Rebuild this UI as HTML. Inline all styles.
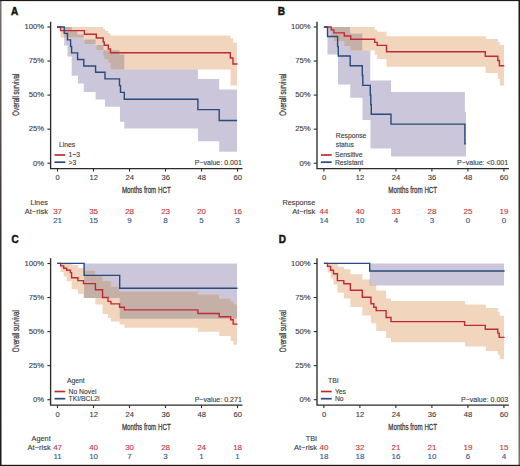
<!DOCTYPE html>
<html><head><meta charset="utf-8"><style>
html,body{margin:0;padding:0;background:#fff;}
svg{display:block;font-family:"Liberation Sans", sans-serif;}
text{stroke-width:0.12px;paint-order:stroke;}
</style></head><body>
<svg width="520" height="466" viewBox="0 0 520 466">
<rect x="0" y="0" width="520" height="466" fill="#fff"/>
<g transform="translate(0 0)">
<text x="11.00" y="14.60" font-size="10" text-anchor="start" fill="#111" stroke="#111" font-weight="bold" style="stroke-width:0.45px">A</text>
<clipPath id="clipA"><path d="M64.20 27.00 L71.70 27.00 L71.70 30.00 L77.40 30.00 L77.40 34.50 L83.80 34.50 L83.80 39.60 L95.60 39.60 L95.60 45.00 L103.40 45.00 L103.40 50.30 L119.50 50.30 L119.50 54.40 L124.30 54.40 L124.30 69.60 L197.90 69.60 L197.90 78.90 L219.20 78.90 L219.20 89.50 L237.00 89.50 L237.00 151.80 L219.20 151.80 L219.20 141.20 L197.90 141.20 L197.90 128.50 L124.30 128.50 L124.30 121.80 L120.00 121.80 L120.00 106.70 L105.00 106.70 L105.00 99.60 L95.60 99.60 L95.60 91.90 L83.80 91.90 L83.80 83.60 L78.00 83.60 L78.00 75.70 L71.70 75.70 L71.70 56.40 L67.50 56.40 L67.50 45.40 L64.20 45.40Z"/></clipPath>
<path d="M64.20 27.00 L71.70 27.00 L71.70 30.00 L77.40 30.00 L77.40 34.50 L83.80 34.50 L83.80 39.60 L95.60 39.60 L95.60 45.00 L103.40 45.00 L103.40 50.30 L119.50 50.30 L119.50 54.40 L124.30 54.40 L124.30 69.60 L197.90 69.60 L197.90 78.90 L219.20 78.90 L219.20 89.50 L237.00 89.50 L237.00 151.80 L219.20 151.80 L219.20 141.20 L197.90 141.20 L197.90 128.50 L124.30 128.50 L124.30 121.80 L120.00 121.80 L120.00 106.70 L105.00 106.70 L105.00 99.60 L95.60 99.60 L95.60 91.90 L83.80 91.90 L83.80 83.60 L78.00 83.60 L78.00 75.70 L71.70 75.70 L71.70 56.40 L67.50 56.40 L67.50 45.40 L64.20 45.40Z" fill="#cbc6d9"/>
<path d="M60.60 27.00 L103.20 27.00 L103.20 29.00 L105.00 29.00 L105.00 31.10 L108.20 31.10 L108.20 33.30 L110.60 33.30 L110.60 35.40 L230.50 35.40 L230.50 38.30 L233.20 38.30 L233.20 42.80 L237.00 42.80 L237.00 85.60 L230.50 85.60 L230.50 69.50 L110.50 69.50 L110.50 62.70 L108.20 62.70 L108.20 59.20 L104.20 59.20 L104.20 55.30 L103.20 55.30 L103.20 49.90 L96.30 49.90 L96.30 44.00 L84.40 44.00 L84.40 37.50 L60.60 37.50Z" fill="#f1d5bc"/>
<path d="M60.60 27.00 L103.20 27.00 L103.20 29.00 L105.00 29.00 L105.00 31.10 L108.20 31.10 L108.20 33.30 L110.60 33.30 L110.60 35.40 L230.50 35.40 L230.50 38.30 L233.20 38.30 L233.20 42.80 L237.00 42.80 L237.00 85.60 L230.50 85.60 L230.50 69.50 L110.50 69.50 L110.50 62.70 L108.20 62.70 L108.20 59.20 L104.20 59.20 L104.20 55.30 L103.20 55.30 L103.20 49.90 L96.30 49.90 L96.30 44.00 L84.40 44.00 L84.40 37.50 L60.60 37.50Z" fill="#c5b0a8" clip-path="url(#clipA)"/>
<path d="M57.10 27.00H60.60V30.60H84.40V34.20H96.30V38.00H103.20V41.90H104.20V45.30H108.30V49.00H110.50V52.70H230.30V58.00H233.00V64.00H237.50" fill="none" stroke="#c02a35" stroke-width="1.4" stroke-linejoin="miter"/>
<path d="M57.10 27.00H64.20V33.40H67.50V39.90H70.60V46.50H71.60V52.90H77.60V59.50H83.80V66.00H95.60V72.30H105.00V78.90H119.50V85.60H120.50V92.40H124.30V99.20H197.90V109.60H219.20V120.50H237.10" fill="none" stroke="#284a7c" stroke-width="1.4" stroke-linejoin="miter"/>
<path d="M50.6 21.7V168.6H242.5" fill="none" stroke="#2e2b28" stroke-width="1.35"/>
<path d="M47.4 163.20H50.6" stroke="#2e2b28" stroke-width="1.1"/>
<text x="44.20" y="165.50" font-size="7.7" text-anchor="end" fill="#3a3a3a" stroke="#3a3a3a" font-weight="normal" >0%</text>
<path d="M47.4 129.15H50.6" stroke="#2e2b28" stroke-width="1.1"/>
<text x="44.20" y="131.45" font-size="7.7" text-anchor="end" fill="#3a3a3a" stroke="#3a3a3a" font-weight="normal" >25%</text>
<path d="M47.4 95.10H50.6" stroke="#2e2b28" stroke-width="1.1"/>
<text x="44.20" y="97.40" font-size="7.7" text-anchor="end" fill="#3a3a3a" stroke="#3a3a3a" font-weight="normal" >50%</text>
<path d="M47.4 61.05H50.6" stroke="#2e2b28" stroke-width="1.1"/>
<text x="44.20" y="63.35" font-size="7.7" text-anchor="end" fill="#3a3a3a" stroke="#3a3a3a" font-weight="normal" >75%</text>
<path d="M47.4 27.00H50.6" stroke="#2e2b28" stroke-width="1.1"/>
<text x="44.20" y="29.30" font-size="7.7" text-anchor="end" fill="#3a3a3a" stroke="#3a3a3a" font-weight="normal" >100%</text>
<path d="M57.50 168.6V171.6" stroke="#2e2b28" stroke-width="1.1"/>
<text x="57.70" y="180.20" font-size="7.6" text-anchor="middle" fill="#3a3a3a" stroke="#3a3a3a" font-weight="normal" >0</text>
<path d="M93.50 168.6V171.6" stroke="#2e2b28" stroke-width="1.1"/>
<text x="93.70" y="180.20" font-size="7.6" text-anchor="middle" fill="#3a3a3a" stroke="#3a3a3a" font-weight="normal" >12</text>
<path d="M129.50 168.6V171.6" stroke="#2e2b28" stroke-width="1.1"/>
<text x="129.70" y="180.20" font-size="7.6" text-anchor="middle" fill="#3a3a3a" stroke="#3a3a3a" font-weight="normal" >24</text>
<path d="M165.50 168.6V171.6" stroke="#2e2b28" stroke-width="1.1"/>
<text x="165.70" y="180.20" font-size="7.6" text-anchor="middle" fill="#3a3a3a" stroke="#3a3a3a" font-weight="normal" >36</text>
<path d="M201.50 168.6V171.6" stroke="#2e2b28" stroke-width="1.1"/>
<text x="201.70" y="180.20" font-size="7.6" text-anchor="middle" fill="#3a3a3a" stroke="#3a3a3a" font-weight="normal" >48</text>
<path d="M237.50 168.6V171.6" stroke="#2e2b28" stroke-width="1.1"/>
<text x="237.70" y="180.20" font-size="7.6" text-anchor="middle" fill="#3a3a3a" stroke="#3a3a3a" font-weight="normal" >60</text>
<text transform="translate(146.30 193.10) scale(0.645 1)" font-size="9.6" text-anchor="middle" fill="#3a3a3a" font-weight="normal" stroke="#3a3a3a" style="stroke-width:0.3px">Months from HCT</text>
<text transform="translate(19.2 94.7) rotate(-90) scale(0.645 1)" font-size="9.5" text-anchor="middle" fill="#3a3a3a" stroke="#3a3a3a" text-rendering="geometricPrecision" style="stroke-width:0.25px">Overall survival</text>
<text transform="translate(241.80 165.10) scale(0.94 1)" font-size="7.5" text-anchor="end" fill="#3a3a3a" font-weight="normal" stroke="#3a3a3a">P−value: 0.001</text>
<text transform="translate(58.90 147.00) scale(0.96 1)" font-size="7.1" text-anchor="start" fill="#3a3a3a" font-weight="normal" stroke="#3a3a3a">Lines</text>
<path d="M54.5 155.0H65.3" stroke="#c02a35" stroke-width="1.7"/>
<path d="M54.5 162.2H65.3" stroke="#284a7c" stroke-width="1.7"/>
<text transform="translate(68.50 157.30) scale(0.96 1)" font-size="7.1" text-anchor="start" fill="#3a3a3a" font-weight="normal" stroke="#3a3a3a">1−3</text>
<text transform="translate(68.50 164.50) scale(0.96 1)" font-size="7.1" text-anchor="start" fill="#3a3a3a" font-weight="normal" stroke="#3a3a3a">&gt;3</text>
<text x="47.90" y="205.20" font-size="7.3" text-anchor="end" fill="#3a3a3a" stroke="#3a3a3a" font-weight="normal" >Lines</text>
<text x="47.90" y="213.90" font-size="7.5" text-anchor="end" fill="#3a3a3a" stroke="#3a3a3a" font-weight="normal" >At−risk</text>
<text x="57.60" y="214.00" font-size="8.0" text-anchor="middle" fill="#c93339" stroke="#c93339" font-weight="normal" >37</text>
<text x="57.60" y="222.90" font-size="8.0" text-anchor="middle" fill="#34548a" stroke="#34548a" font-weight="normal" >21</text>
<text x="93.60" y="214.00" font-size="8.0" text-anchor="middle" fill="#c93339" stroke="#c93339" font-weight="normal" >35</text>
<text x="93.60" y="222.90" font-size="8.0" text-anchor="middle" fill="#34548a" stroke="#34548a" font-weight="normal" >15</text>
<text x="129.60" y="214.00" font-size="8.0" text-anchor="middle" fill="#c93339" stroke="#c93339" font-weight="normal" >28</text>
<text x="129.60" y="222.90" font-size="8.0" text-anchor="middle" fill="#34548a" stroke="#34548a" font-weight="normal" >9</text>
<text x="165.60" y="214.00" font-size="8.0" text-anchor="middle" fill="#c93339" stroke="#c93339" font-weight="normal" >23</text>
<text x="165.60" y="222.90" font-size="8.0" text-anchor="middle" fill="#34548a" stroke="#34548a" font-weight="normal" >8</text>
<text x="201.60" y="214.00" font-size="8.0" text-anchor="middle" fill="#c93339" stroke="#c93339" font-weight="normal" >20</text>
<text x="201.60" y="222.90" font-size="8.0" text-anchor="middle" fill="#34548a" stroke="#34548a" font-weight="normal" >5</text>
<text x="237.60" y="214.00" font-size="8.0" text-anchor="middle" fill="#c93339" stroke="#c93339" font-weight="normal" >16</text>
<text x="237.60" y="222.90" font-size="8.0" text-anchor="middle" fill="#34548a" stroke="#34548a" font-weight="normal" >3</text>
</g>
<g transform="translate(266.4 0)">
<text x="11.40" y="15.00" font-size="10" text-anchor="start" fill="#111" stroke="#111" font-weight="bold" style="stroke-width:0.45px">B</text>
<clipPath id="clipB"><path d="M61.10 27.00 L83.70 27.00 L83.70 33.60 L95.90 33.60 L95.90 50.60 L103.90 50.60 L103.90 80.50 L124.60 80.50 L124.60 92.00 L198.50 92.00 L198.50 111.80 L199.60 111.80 L199.60 156.50 L124.60 156.50 L124.60 148.60 L104.10 148.60 L104.10 120.10 L96.10 120.10 L96.10 97.70 L83.90 97.70 L83.90 84.40 L71.60 84.40 L71.60 54.50 L61.10 54.50Z"/></clipPath>
<path d="M61.10 27.00 L83.70 27.00 L83.70 33.60 L95.90 33.60 L95.90 50.60 L103.90 50.60 L103.90 80.50 L124.60 80.50 L124.60 92.00 L198.50 92.00 L198.50 111.80 L199.60 111.80 L199.60 156.50 L124.60 156.50 L124.60 148.60 L104.10 148.60 L104.10 120.10 L96.10 120.10 L96.10 97.70 L83.90 97.70 L83.90 84.40 L71.60 84.40 L71.60 54.50 L61.10 54.50Z" fill="#cbc6d9"/>
<path d="M64.80 27.00 L108.30 27.00 L108.30 29.80 L110.70 29.80 L110.70 31.80 L120.10 31.80 L120.10 36.30 L219.30 36.30 L219.30 38.90 L231.40 38.90 L231.40 42.20 L233.80 42.20 L233.80 45.10 L237.60 45.10 L237.60 85.60 L233.40 85.60 L233.40 78.90 L231.40 78.90 L231.40 73.10 L219.30 73.10 L219.30 66.80 L120.10 66.80 L120.10 58.90 L110.70 58.90 L110.70 54.80 L108.30 54.80 L108.30 50.60 L83.90 50.60 L83.90 45.90 L77.90 45.90 L77.90 41.30 L67.50 41.30 L67.50 36.00 L64.80 36.00Z" fill="#f1d5bc"/>
<path d="M64.80 27.00 L108.30 27.00 L108.30 29.80 L110.70 29.80 L110.70 31.80 L120.10 31.80 L120.10 36.30 L219.30 36.30 L219.30 38.90 L231.40 38.90 L231.40 42.20 L233.80 42.20 L233.80 45.10 L237.60 45.10 L237.60 85.60 L233.40 85.60 L233.40 78.90 L231.40 78.90 L231.40 73.10 L219.30 73.10 L219.30 66.80 L120.10 66.80 L120.10 58.90 L110.70 58.90 L110.70 54.80 L108.30 54.80 L108.30 50.60 L83.90 50.60 L83.90 45.90 L77.90 45.90 L77.90 41.30 L67.50 41.30 L67.50 36.00 L64.80 36.00Z" fill="#c5b0a8" clip-path="url(#clipB)"/>
<path d="M57.50 27.00H64.80V29.90H67.50V32.90H77.90V36.00H84.30V39.30H108.30V42.40H110.80V45.40H120.10V51.80H218.90V56.30H231.40V60.50H233.00V65.75H237.80" fill="none" stroke="#c02a35" stroke-width="1.4" stroke-linejoin="miter"/>
<path d="M57.50 27.00H61.10V36.50H71.20V46.60H71.90V56.00H83.80V65.70H95.90V75.50H96.40V85.40H103.90V95.00H104.40V104.60H104.90V114.20H124.60V124.10H198.50V143.90H199.60" fill="none" stroke="#284a7c" stroke-width="1.4" stroke-linejoin="miter"/>
<path d="M50.6 21.7V168.6H242.5" fill="none" stroke="#2e2b28" stroke-width="1.35"/>
<path d="M47.4 163.20H50.6" stroke="#2e2b28" stroke-width="1.1"/>
<text x="44.20" y="165.50" font-size="7.7" text-anchor="end" fill="#3a3a3a" stroke="#3a3a3a" font-weight="normal" >0%</text>
<path d="M47.4 129.15H50.6" stroke="#2e2b28" stroke-width="1.1"/>
<text x="44.20" y="131.45" font-size="7.7" text-anchor="end" fill="#3a3a3a" stroke="#3a3a3a" font-weight="normal" >25%</text>
<path d="M47.4 95.10H50.6" stroke="#2e2b28" stroke-width="1.1"/>
<text x="44.20" y="97.40" font-size="7.7" text-anchor="end" fill="#3a3a3a" stroke="#3a3a3a" font-weight="normal" >50%</text>
<path d="M47.4 61.05H50.6" stroke="#2e2b28" stroke-width="1.1"/>
<text x="44.20" y="63.35" font-size="7.7" text-anchor="end" fill="#3a3a3a" stroke="#3a3a3a" font-weight="normal" >75%</text>
<path d="M47.4 27.00H50.6" stroke="#2e2b28" stroke-width="1.1"/>
<text x="44.20" y="29.30" font-size="7.7" text-anchor="end" fill="#3a3a3a" stroke="#3a3a3a" font-weight="normal" >100%</text>
<path d="M57.50 168.6V171.6" stroke="#2e2b28" stroke-width="1.1"/>
<text x="57.70" y="180.20" font-size="7.6" text-anchor="middle" fill="#3a3a3a" stroke="#3a3a3a" font-weight="normal" >0</text>
<path d="M93.50 168.6V171.6" stroke="#2e2b28" stroke-width="1.1"/>
<text x="93.70" y="180.20" font-size="7.6" text-anchor="middle" fill="#3a3a3a" stroke="#3a3a3a" font-weight="normal" >12</text>
<path d="M129.50 168.6V171.6" stroke="#2e2b28" stroke-width="1.1"/>
<text x="129.70" y="180.20" font-size="7.6" text-anchor="middle" fill="#3a3a3a" stroke="#3a3a3a" font-weight="normal" >24</text>
<path d="M165.50 168.6V171.6" stroke="#2e2b28" stroke-width="1.1"/>
<text x="165.70" y="180.20" font-size="7.6" text-anchor="middle" fill="#3a3a3a" stroke="#3a3a3a" font-weight="normal" >36</text>
<path d="M201.50 168.6V171.6" stroke="#2e2b28" stroke-width="1.1"/>
<text x="201.70" y="180.20" font-size="7.6" text-anchor="middle" fill="#3a3a3a" stroke="#3a3a3a" font-weight="normal" >48</text>
<path d="M237.50 168.6V171.6" stroke="#2e2b28" stroke-width="1.1"/>
<text x="237.70" y="180.20" font-size="7.6" text-anchor="middle" fill="#3a3a3a" stroke="#3a3a3a" font-weight="normal" >60</text>
<text transform="translate(146.30 193.10) scale(0.645 1)" font-size="9.6" text-anchor="middle" fill="#3a3a3a" font-weight="normal" stroke="#3a3a3a" style="stroke-width:0.3px">Months from HCT</text>
<text transform="translate(19.2 94.7) rotate(-90) scale(0.645 1)" font-size="9.5" text-anchor="middle" fill="#3a3a3a" stroke="#3a3a3a" text-rendering="geometricPrecision" style="stroke-width:0.25px">Overall survival</text>
<text transform="translate(241.80 165.10) scale(0.94 1)" font-size="7.5" text-anchor="end" fill="#3a3a3a" font-weight="normal" stroke="#3a3a3a">P−value: &lt;0.001</text>
<text transform="translate(69.40 138.00) scale(0.96 1)" font-size="7.1" text-anchor="start" fill="#3a3a3a" font-weight="normal" stroke="#3a3a3a">Response</text>
<text transform="translate(69.40 146.50) scale(0.96 1)" font-size="7.1" text-anchor="start" fill="#3a3a3a" font-weight="normal" stroke="#3a3a3a">status</text>
<path d="M54.5 155.0H65.3" stroke="#c02a35" stroke-width="1.7"/>
<path d="M54.5 162.2H65.3" stroke="#284a7c" stroke-width="1.7"/>
<text transform="translate(68.50 157.30) scale(0.96 1)" font-size="7.1" text-anchor="start" fill="#3a3a3a" font-weight="normal" stroke="#3a3a3a">Sensitive</text>
<text transform="translate(68.50 164.50) scale(0.96 1)" font-size="7.1" text-anchor="start" fill="#3a3a3a" font-weight="normal" stroke="#3a3a3a">Resistant</text>
<text x="48.90" y="205.20" font-size="7.3" text-anchor="end" fill="#3a3a3a" stroke="#3a3a3a" font-weight="normal" >Response</text>
<text x="48.90" y="213.90" font-size="7.5" text-anchor="end" fill="#3a3a3a" stroke="#3a3a3a" font-weight="normal" >At−risk</text>
<text x="57.60" y="214.00" font-size="8.0" text-anchor="middle" fill="#c93339" stroke="#c93339" font-weight="normal" >44</text>
<text x="57.60" y="222.90" font-size="8.0" text-anchor="middle" fill="#34548a" stroke="#34548a" font-weight="normal" >14</text>
<text x="93.60" y="214.00" font-size="8.0" text-anchor="middle" fill="#c93339" stroke="#c93339" font-weight="normal" >40</text>
<text x="93.60" y="222.90" font-size="8.0" text-anchor="middle" fill="#34548a" stroke="#34548a" font-weight="normal" >10</text>
<text x="129.60" y="214.00" font-size="8.0" text-anchor="middle" fill="#c93339" stroke="#c93339" font-weight="normal" >33</text>
<text x="129.60" y="222.90" font-size="8.0" text-anchor="middle" fill="#34548a" stroke="#34548a" font-weight="normal" >4</text>
<text x="165.60" y="214.00" font-size="8.0" text-anchor="middle" fill="#c93339" stroke="#c93339" font-weight="normal" >28</text>
<text x="165.60" y="222.90" font-size="8.0" text-anchor="middle" fill="#34548a" stroke="#34548a" font-weight="normal" >3</text>
<text x="201.60" y="214.00" font-size="8.0" text-anchor="middle" fill="#c93339" stroke="#c93339" font-weight="normal" >25</text>
<text x="201.60" y="222.90" font-size="8.0" text-anchor="middle" fill="#34548a" stroke="#34548a" font-weight="normal" >0</text>
<text x="237.60" y="214.00" font-size="8.0" text-anchor="middle" fill="#c93339" stroke="#c93339" font-weight="normal" >19</text>
<text x="237.60" y="222.90" font-size="8.0" text-anchor="middle" fill="#34548a" stroke="#34548a" font-weight="normal" >0</text>
</g>
<g transform="translate(0 236.5)">
<text x="11.40" y="6.60" font-size="10" text-anchor="start" fill="#111" stroke="#111" font-weight="bold" style="stroke-width:0.45px">C</text>
<clipPath id="clipC"><path d="M84.10 26.90 L237.00 26.90 L237.00 82.20 L119.70 82.20 L119.70 61.60 L84.10 61.60Z"/></clipPath>
<path d="M84.10 26.90 L237.00 26.90 L237.00 82.20 L119.70 82.20 L119.70 61.60 L84.10 61.60Z" fill="#cbc6d9"/>
<path d="M60.60 26.90 L71.60 26.90 L71.60 28.50 L77.90 28.50 L77.90 31.50 L83.50 31.50 L83.50 33.90 L95.40 33.90 L95.40 38.40 L102.60 38.40 L102.60 44.20 L110.90 44.20 L110.90 50.00 L119.60 50.00 L119.60 54.90 L197.90 54.90 L197.90 58.10 L219.20 58.10 L219.20 62.00 L230.70 62.00 L230.70 64.90 L233.60 64.90 L233.60 67.80 L237.00 67.80 L237.00 108.30 L233.60 108.30 L233.60 104.40 L230.70 104.40 L230.70 99.60 L219.20 99.60 L219.20 95.20 L197.90 95.20 L197.90 91.30 L124.40 91.30 L124.40 88.10 L119.60 88.10 L119.60 85.10 L110.90 85.10 L110.90 81.50 L108.00 81.50 L108.00 77.40 L102.60 77.40 L102.60 68.00 L95.40 68.00 L95.40 61.60 L83.50 61.60 L83.50 57.30 L77.90 57.30 L77.90 52.80 L71.60 52.80 L71.60 44.70 L66.70 44.70 L66.70 40.00 L63.70 40.00 L63.70 35.40 L60.60 35.40Z" fill="#f1d5bc"/>
<path d="M60.60 26.90 L71.60 26.90 L71.60 28.50 L77.90 28.50 L77.90 31.50 L83.50 31.50 L83.50 33.90 L95.40 33.90 L95.40 38.40 L102.60 38.40 L102.60 44.20 L110.90 44.20 L110.90 50.00 L119.60 50.00 L119.60 54.90 L197.90 54.90 L197.90 58.10 L219.20 58.10 L219.20 62.00 L230.70 62.00 L230.70 64.90 L233.60 64.90 L233.60 67.80 L237.00 67.80 L237.00 108.30 L233.60 108.30 L233.60 104.40 L230.70 104.40 L230.70 99.60 L219.20 99.60 L219.20 95.20 L197.90 95.20 L197.90 91.30 L124.40 91.30 L124.40 88.10 L119.60 88.10 L119.60 85.10 L110.90 85.10 L110.90 81.50 L108.00 81.50 L108.00 77.40 L102.60 77.40 L102.60 68.00 L95.40 68.00 L95.40 61.60 L83.50 61.60 L83.50 57.30 L77.90 57.30 L77.90 52.80 L71.60 52.80 L71.60 44.70 L66.70 44.70 L66.70 40.00 L63.70 40.00 L63.70 35.40 L60.60 35.40Z" fill="#c5b0a8" clip-path="url(#clipC)"/>
<path d="M57.10 26.90H60.60V29.40H63.70V31.80H66.70V33.80H70.40V36.10H71.60V41.20H77.90V44.10H83.50V47.10H95.40V53.30H102.60V61.00H108.00V64.90H110.90V67.40H119.60V70.70H124.40V73.40H197.90V77.00H219.20V80.30H230.70V83.20H233.20V87.60H237.50" fill="none" stroke="#c02a35" stroke-width="1.4" stroke-linejoin="miter"/>
<path d="M57.10 26.90H84.10V38.90H119.70V51.70H237.50" fill="none" stroke="#284a7c" stroke-width="1.4" stroke-linejoin="miter"/>
<path d="M50.6 21.7V168.6H242.5" fill="none" stroke="#2e2b28" stroke-width="1.35"/>
<path d="M47.4 163.20H50.6" stroke="#2e2b28" stroke-width="1.1"/>
<text x="44.20" y="165.50" font-size="7.7" text-anchor="end" fill="#3a3a3a" stroke="#3a3a3a" font-weight="normal" >0%</text>
<path d="M47.4 129.15H50.6" stroke="#2e2b28" stroke-width="1.1"/>
<text x="44.20" y="131.45" font-size="7.7" text-anchor="end" fill="#3a3a3a" stroke="#3a3a3a" font-weight="normal" >25%</text>
<path d="M47.4 95.10H50.6" stroke="#2e2b28" stroke-width="1.1"/>
<text x="44.20" y="97.40" font-size="7.7" text-anchor="end" fill="#3a3a3a" stroke="#3a3a3a" font-weight="normal" >50%</text>
<path d="M47.4 61.05H50.6" stroke="#2e2b28" stroke-width="1.1"/>
<text x="44.20" y="63.35" font-size="7.7" text-anchor="end" fill="#3a3a3a" stroke="#3a3a3a" font-weight="normal" >75%</text>
<path d="M47.4 27.00H50.6" stroke="#2e2b28" stroke-width="1.1"/>
<text x="44.20" y="29.30" font-size="7.7" text-anchor="end" fill="#3a3a3a" stroke="#3a3a3a" font-weight="normal" >100%</text>
<path d="M57.50 168.6V171.6" stroke="#2e2b28" stroke-width="1.1"/>
<text x="57.70" y="180.20" font-size="7.6" text-anchor="middle" fill="#3a3a3a" stroke="#3a3a3a" font-weight="normal" >0</text>
<path d="M93.50 168.6V171.6" stroke="#2e2b28" stroke-width="1.1"/>
<text x="93.70" y="180.20" font-size="7.6" text-anchor="middle" fill="#3a3a3a" stroke="#3a3a3a" font-weight="normal" >12</text>
<path d="M129.50 168.6V171.6" stroke="#2e2b28" stroke-width="1.1"/>
<text x="129.70" y="180.20" font-size="7.6" text-anchor="middle" fill="#3a3a3a" stroke="#3a3a3a" font-weight="normal" >24</text>
<path d="M165.50 168.6V171.6" stroke="#2e2b28" stroke-width="1.1"/>
<text x="165.70" y="180.20" font-size="7.6" text-anchor="middle" fill="#3a3a3a" stroke="#3a3a3a" font-weight="normal" >36</text>
<path d="M201.50 168.6V171.6" stroke="#2e2b28" stroke-width="1.1"/>
<text x="201.70" y="180.20" font-size="7.6" text-anchor="middle" fill="#3a3a3a" stroke="#3a3a3a" font-weight="normal" >48</text>
<path d="M237.50 168.6V171.6" stroke="#2e2b28" stroke-width="1.1"/>
<text x="237.70" y="180.20" font-size="7.6" text-anchor="middle" fill="#3a3a3a" stroke="#3a3a3a" font-weight="normal" >60</text>
<text transform="translate(146.30 193.10) scale(0.645 1)" font-size="9.6" text-anchor="middle" fill="#3a3a3a" font-weight="normal" stroke="#3a3a3a" style="stroke-width:0.3px">Months from HCT</text>
<text transform="translate(19.2 94.7) rotate(-90) scale(0.645 1)" font-size="9.5" text-anchor="middle" fill="#3a3a3a" stroke="#3a3a3a" text-rendering="geometricPrecision" style="stroke-width:0.25px">Overall survival</text>
<text transform="translate(241.80 165.10) scale(0.94 1)" font-size="7.5" text-anchor="end" fill="#3a3a3a" font-weight="normal" stroke="#3a3a3a">P−value: 0.271</text>
<text transform="translate(67.00 146.70) scale(0.96 1)" font-size="7.1" text-anchor="start" fill="#3a3a3a" font-weight="normal" stroke="#3a3a3a">Agent</text>
<path d="M54.5 155.0H65.3" stroke="#c02a35" stroke-width="1.7"/>
<path d="M54.5 162.2H65.3" stroke="#284a7c" stroke-width="1.7"/>
<text transform="translate(68.50 157.30) scale(0.96 1)" font-size="7.1" text-anchor="start" fill="#3a3a3a" font-weight="normal" stroke="#3a3a3a">No Novel</text>
<text transform="translate(68.50 164.50) scale(0.96 1)" font-size="7.1" text-anchor="start" fill="#3a3a3a" font-weight="normal" stroke="#3a3a3a">TKI/BCL2i</text>
<text x="50.70" y="204.80" font-size="7.3" text-anchor="end" fill="#3a3a3a" stroke="#3a3a3a" font-weight="normal" >Agent</text>
<text x="50.70" y="213.50" font-size="7.5" text-anchor="end" fill="#3a3a3a" stroke="#3a3a3a" font-weight="normal" >At−risk</text>
<text x="57.60" y="213.60" font-size="8.0" text-anchor="middle" fill="#c93339" stroke="#c93339" font-weight="normal" >47</text>
<text x="57.60" y="222.90" font-size="8.0" text-anchor="middle" fill="#34548a" stroke="#34548a" font-weight="normal" >11</text>
<text x="93.60" y="213.60" font-size="8.0" text-anchor="middle" fill="#c93339" stroke="#c93339" font-weight="normal" >40</text>
<text x="93.60" y="222.90" font-size="8.0" text-anchor="middle" fill="#34548a" stroke="#34548a" font-weight="normal" >10</text>
<text x="129.60" y="213.60" font-size="8.0" text-anchor="middle" fill="#c93339" stroke="#c93339" font-weight="normal" >30</text>
<text x="129.60" y="222.90" font-size="8.0" text-anchor="middle" fill="#34548a" stroke="#34548a" font-weight="normal" >7</text>
<text x="165.60" y="213.60" font-size="8.0" text-anchor="middle" fill="#c93339" stroke="#c93339" font-weight="normal" >28</text>
<text x="165.60" y="222.90" font-size="8.0" text-anchor="middle" fill="#34548a" stroke="#34548a" font-weight="normal" >3</text>
<text x="201.60" y="213.60" font-size="8.0" text-anchor="middle" fill="#c93339" stroke="#c93339" font-weight="normal" >24</text>
<text x="201.60" y="222.90" font-size="8.0" text-anchor="middle" fill="#34548a" stroke="#34548a" font-weight="normal" >1</text>
<text x="237.60" y="213.60" font-size="8.0" text-anchor="middle" fill="#c93339" stroke="#c93339" font-weight="normal" >18</text>
<text x="237.60" y="222.90" font-size="8.0" text-anchor="middle" fill="#34548a" stroke="#34548a" font-weight="normal" >1</text>
</g>
<g transform="translate(266.4 236.5)">
<text x="12.30" y="6.60" font-size="10" text-anchor="start" fill="#111" stroke="#111" font-weight="bold" style="stroke-width:0.45px">D</text>
<clipPath id="clipD"><path d="M103.30 26.90 L237.60 26.90 L237.60 49.10 L103.30 49.10Z"/></clipPath>
<path d="M103.30 26.90 L237.60 26.90 L237.60 49.10 L103.30 49.10Z" fill="#cbc6d9"/>
<path d="M61.10 26.90 L71.60 26.90 L71.60 30.30 L77.40 30.30 L77.40 32.80 L84.00 32.80 L84.00 37.70 L95.90 37.70 L95.90 43.00 L104.10 43.00 L104.10 48.50 L109.80 48.50 L109.80 54.10 L119.70 54.10 L119.70 61.90 L124.60 61.90 L124.60 64.60 L198.60 64.60 L198.60 68.10 L219.50 68.10 L219.50 71.60 L231.40 71.60 L231.40 75.50 L233.40 75.50 L233.40 79.30 L237.60 79.30 L237.60 122.50 L233.40 122.50 L233.40 118.20 L231.40 118.20 L231.40 114.40 L219.50 114.40 L219.50 110.10 L198.60 110.10 L198.60 105.70 L124.60 105.70 L124.60 101.60 L119.70 101.60 L119.70 94.50 L109.80 94.50 L109.80 86.70 L104.50 86.70 L104.50 78.90 L95.90 78.90 L95.90 70.40 L84.00 70.40 L84.00 62.10 L77.40 62.10 L77.40 56.30 L71.00 56.30 L71.00 47.90 L67.10 47.90 L67.10 42.10 L64.20 42.10 L64.20 36.00 L61.10 36.00Z" fill="#f1d5bc"/>
<path d="M61.10 26.90 L71.60 26.90 L71.60 30.30 L77.40 30.30 L77.40 32.80 L84.00 32.80 L84.00 37.70 L95.90 37.70 L95.90 43.00 L104.10 43.00 L104.10 48.50 L109.80 48.50 L109.80 54.10 L119.70 54.10 L119.70 61.90 L124.60 61.90 L124.60 64.60 L198.60 64.60 L198.60 68.10 L219.50 68.10 L219.50 71.60 L231.40 71.60 L231.40 75.50 L233.40 75.50 L233.40 79.30 L237.60 79.30 L237.60 122.50 L233.40 122.50 L233.40 118.20 L231.40 118.20 L231.40 114.40 L219.50 114.40 L219.50 110.10 L198.60 110.10 L198.60 105.70 L124.60 105.70 L124.60 101.60 L119.70 101.60 L119.70 94.50 L109.80 94.50 L109.80 86.70 L104.50 86.70 L104.50 78.90 L95.90 78.90 L95.90 70.40 L84.00 70.40 L84.00 62.10 L77.40 62.10 L77.40 56.30 L71.00 56.30 L71.00 47.90 L67.10 47.90 L67.10 42.10 L64.20 42.10 L64.20 36.00 L61.10 36.00Z" fill="#c5b0a8" clip-path="url(#clipD)"/>
<path d="M57.50 26.90H61.10V29.90H64.20V33.70H67.10V37.20H71.00V44.10H77.40V47.20H84.00V53.70H95.90V60.80H104.50V67.30H107.40V70.70H109.80V74.10H119.70V81.00H124.60V85.10H198.20V88.90H218.90V92.80H231.40V96.60H232.80V100.90H238.20" fill="none" stroke="#c02a35" stroke-width="1.4" stroke-linejoin="miter"/>
<path d="M57.50 26.90H103.30V34.50H238.20" fill="none" stroke="#284a7c" stroke-width="1.4" stroke-linejoin="miter"/>
<path d="M50.6 21.7V168.6H242.5" fill="none" stroke="#2e2b28" stroke-width="1.35"/>
<path d="M47.4 163.20H50.6" stroke="#2e2b28" stroke-width="1.1"/>
<text x="44.20" y="165.50" font-size="7.7" text-anchor="end" fill="#3a3a3a" stroke="#3a3a3a" font-weight="normal" >0%</text>
<path d="M47.4 129.15H50.6" stroke="#2e2b28" stroke-width="1.1"/>
<text x="44.20" y="131.45" font-size="7.7" text-anchor="end" fill="#3a3a3a" stroke="#3a3a3a" font-weight="normal" >25%</text>
<path d="M47.4 95.10H50.6" stroke="#2e2b28" stroke-width="1.1"/>
<text x="44.20" y="97.40" font-size="7.7" text-anchor="end" fill="#3a3a3a" stroke="#3a3a3a" font-weight="normal" >50%</text>
<path d="M47.4 61.05H50.6" stroke="#2e2b28" stroke-width="1.1"/>
<text x="44.20" y="63.35" font-size="7.7" text-anchor="end" fill="#3a3a3a" stroke="#3a3a3a" font-weight="normal" >75%</text>
<path d="M47.4 27.00H50.6" stroke="#2e2b28" stroke-width="1.1"/>
<text x="44.20" y="29.30" font-size="7.7" text-anchor="end" fill="#3a3a3a" stroke="#3a3a3a" font-weight="normal" >100%</text>
<path d="M57.50 168.6V171.6" stroke="#2e2b28" stroke-width="1.1"/>
<text x="57.70" y="180.20" font-size="7.6" text-anchor="middle" fill="#3a3a3a" stroke="#3a3a3a" font-weight="normal" >0</text>
<path d="M93.50 168.6V171.6" stroke="#2e2b28" stroke-width="1.1"/>
<text x="93.70" y="180.20" font-size="7.6" text-anchor="middle" fill="#3a3a3a" stroke="#3a3a3a" font-weight="normal" >12</text>
<path d="M129.50 168.6V171.6" stroke="#2e2b28" stroke-width="1.1"/>
<text x="129.70" y="180.20" font-size="7.6" text-anchor="middle" fill="#3a3a3a" stroke="#3a3a3a" font-weight="normal" >24</text>
<path d="M165.50 168.6V171.6" stroke="#2e2b28" stroke-width="1.1"/>
<text x="165.70" y="180.20" font-size="7.6" text-anchor="middle" fill="#3a3a3a" stroke="#3a3a3a" font-weight="normal" >36</text>
<path d="M201.50 168.6V171.6" stroke="#2e2b28" stroke-width="1.1"/>
<text x="201.70" y="180.20" font-size="7.6" text-anchor="middle" fill="#3a3a3a" stroke="#3a3a3a" font-weight="normal" >48</text>
<path d="M237.50 168.6V171.6" stroke="#2e2b28" stroke-width="1.1"/>
<text x="237.70" y="180.20" font-size="7.6" text-anchor="middle" fill="#3a3a3a" stroke="#3a3a3a" font-weight="normal" >60</text>
<text transform="translate(146.30 193.10) scale(0.645 1)" font-size="9.6" text-anchor="middle" fill="#3a3a3a" font-weight="normal" stroke="#3a3a3a" style="stroke-width:0.3px">Months from HCT</text>
<text transform="translate(19.2 94.7) rotate(-90) scale(0.645 1)" font-size="9.5" text-anchor="middle" fill="#3a3a3a" stroke="#3a3a3a" text-rendering="geometricPrecision" style="stroke-width:0.25px">Overall survival</text>
<text transform="translate(241.80 165.10) scale(0.94 1)" font-size="7.5" text-anchor="end" fill="#3a3a3a" font-weight="normal" stroke="#3a3a3a">P−value: 0.003</text>
<text transform="translate(61.60 146.70) scale(0.96 1)" font-size="7.1" text-anchor="start" fill="#3a3a3a" font-weight="normal" stroke="#3a3a3a">TBI</text>
<path d="M54.5 155.0H65.3" stroke="#c02a35" stroke-width="1.7"/>
<path d="M54.5 162.2H65.3" stroke="#284a7c" stroke-width="1.7"/>
<text transform="translate(68.50 157.30) scale(0.96 1)" font-size="7.1" text-anchor="start" fill="#3a3a3a" font-weight="normal" stroke="#3a3a3a">Yes</text>
<text transform="translate(68.50 164.50) scale(0.96 1)" font-size="7.1" text-anchor="start" fill="#3a3a3a" font-weight="normal" stroke="#3a3a3a">No</text>
<text x="50.70" y="204.80" font-size="7.3" text-anchor="end" fill="#3a3a3a" stroke="#3a3a3a" font-weight="normal" >TBI</text>
<text x="50.70" y="213.50" font-size="7.5" text-anchor="end" fill="#3a3a3a" stroke="#3a3a3a" font-weight="normal" >At−risk</text>
<text x="57.60" y="213.60" font-size="8.0" text-anchor="middle" fill="#c93339" stroke="#c93339" font-weight="normal" >40</text>
<text x="57.60" y="222.90" font-size="8.0" text-anchor="middle" fill="#34548a" stroke="#34548a" font-weight="normal" >18</text>
<text x="93.60" y="213.60" font-size="8.0" text-anchor="middle" fill="#c93339" stroke="#c93339" font-weight="normal" >32</text>
<text x="93.60" y="222.90" font-size="8.0" text-anchor="middle" fill="#34548a" stroke="#34548a" font-weight="normal" >18</text>
<text x="129.60" y="213.60" font-size="8.0" text-anchor="middle" fill="#c93339" stroke="#c93339" font-weight="normal" >21</text>
<text x="129.60" y="222.90" font-size="8.0" text-anchor="middle" fill="#34548a" stroke="#34548a" font-weight="normal" >16</text>
<text x="165.60" y="213.60" font-size="8.0" text-anchor="middle" fill="#c93339" stroke="#c93339" font-weight="normal" >21</text>
<text x="165.60" y="222.90" font-size="8.0" text-anchor="middle" fill="#34548a" stroke="#34548a" font-weight="normal" >10</text>
<text x="201.60" y="213.60" font-size="8.0" text-anchor="middle" fill="#c93339" stroke="#c93339" font-weight="normal" >19</text>
<text x="201.60" y="222.90" font-size="8.0" text-anchor="middle" fill="#34548a" stroke="#34548a" font-weight="normal" >6</text>
<text x="237.60" y="213.60" font-size="8.0" text-anchor="middle" fill="#c93339" stroke="#c93339" font-weight="normal" >15</text>
<text x="237.60" y="222.90" font-size="8.0" text-anchor="middle" fill="#34548a" stroke="#34548a" font-weight="normal" >4</text>
</g>
<defs><linearGradient id="gl" x1="0" y1="0" x2="0" y2="1"><stop offset="0" stop-color="#77726d"/><stop offset="0.5" stop-color="#36312c"/><stop offset="1" stop-color="#1c1a18"/></linearGradient>
<linearGradient id="gr" x1="0" y1="0" x2="0" y2="1"><stop offset="0" stop-color="#1c1a18"/><stop offset="0.5" stop-color="#36312c"/><stop offset="1" stop-color="#77726d"/></linearGradient></defs>
<rect x="0" y="0" width="1.5" height="466" fill="url(#gl)"/>
<rect x="518.5" y="0" width="1.5" height="466" fill="url(#gr)"/>
<rect x="0" y="0" width="520" height="1.1" fill="#1c1a18"/>
<rect x="0" y="464.8" width="520" height="1.2" fill="#1c1a18"/>
</svg></body></html>
